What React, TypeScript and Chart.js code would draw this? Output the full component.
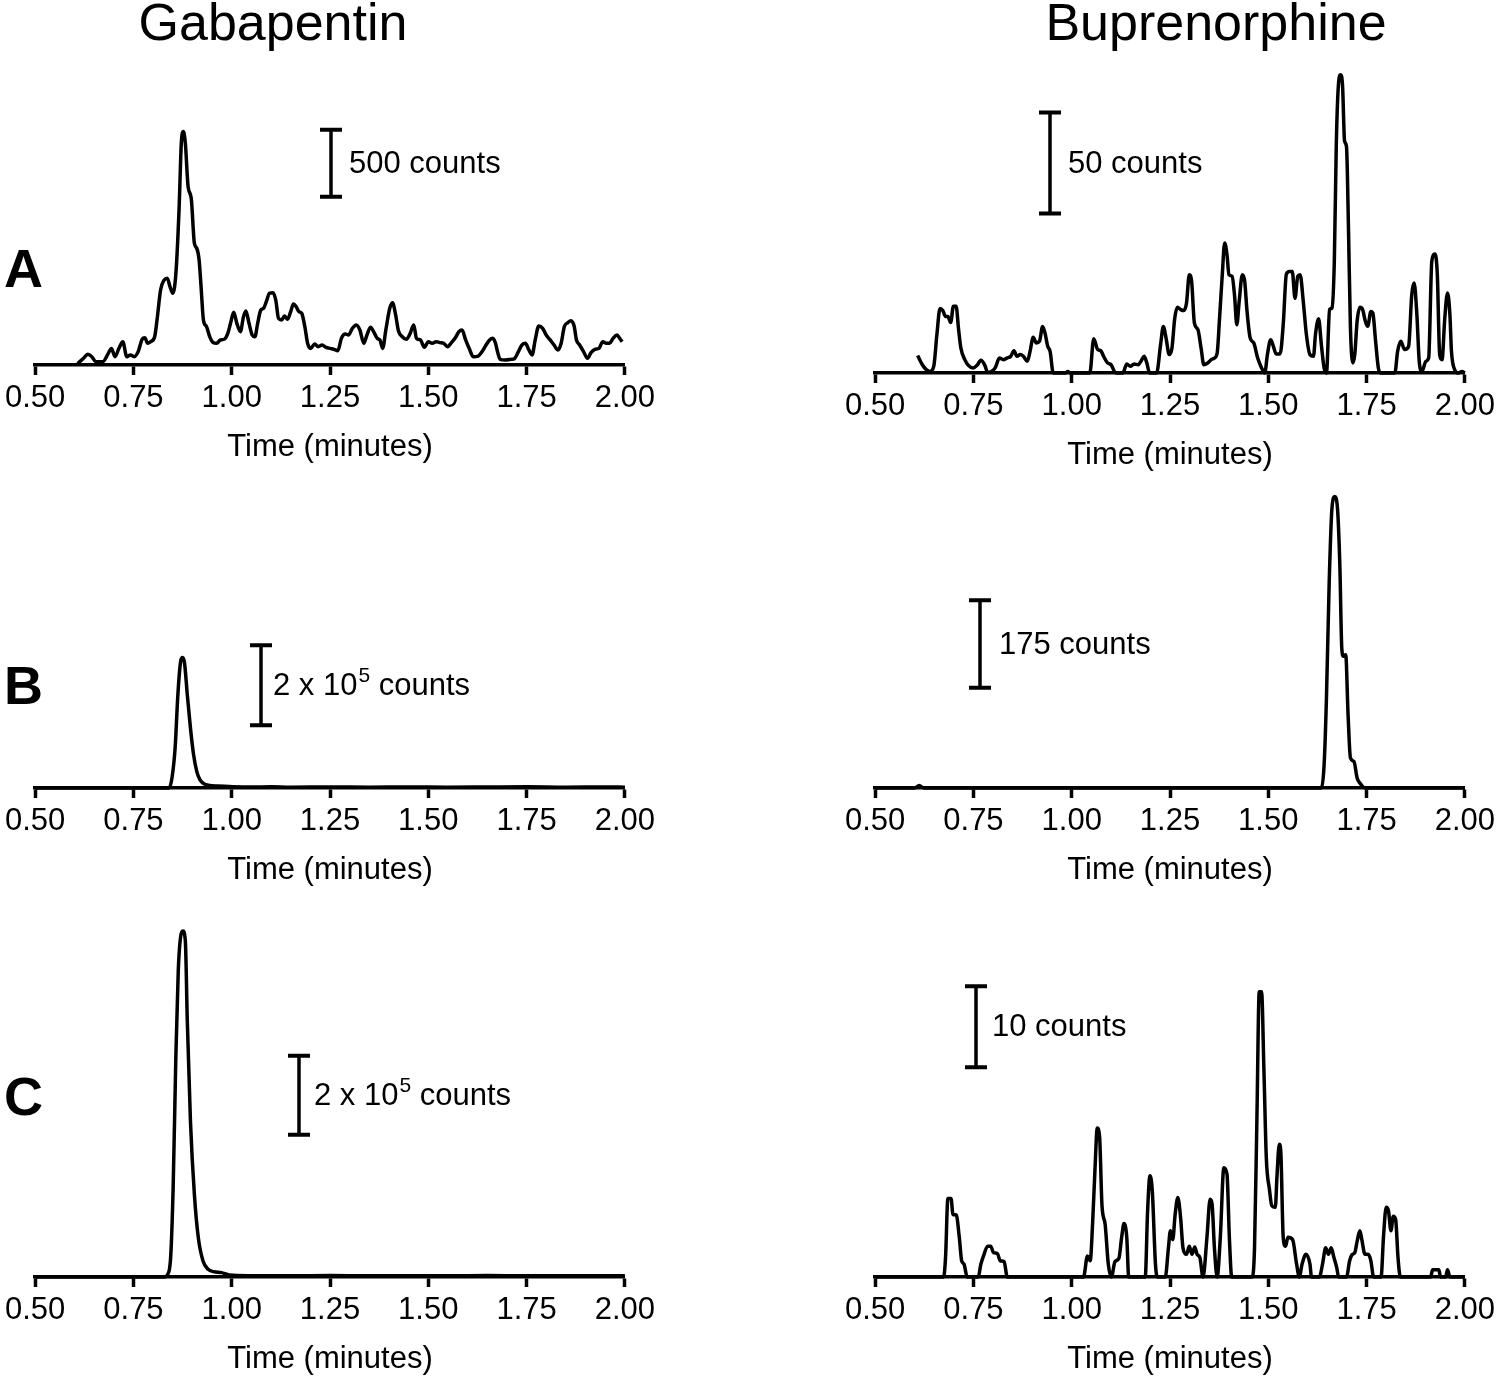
import React, { useEffect, useRef } from 'react';
import { Chart, registerables } from 'chart.js';

Chart.register(...registerables);

const FONT = '"Liberation Sans", Arial, Helvetica, sans-serif';

// ---------- axis / labels ----------
const tickValues = [0.5, 0.75, 1.0, 1.25, 1.5, 1.75, 2.0];
const tickLabels = ['0.50', '0.75', '1.00', '1.25', '1.50', '1.75', '2.00'];
const xTitle = 'Time (minutes)';
const columnTitles = ['Gabapentin', 'Buprenorphine'];
const rowLetters = ['A', 'B', 'C'];

// ---------- data: [time (min), counts] ----------
const gabapentinA: number[][] = [
  [0.608, 10], [0.623, 50], [0.634, 80], [0.644, 62], [0.654, 25], [0.672, 25], [0.686, 87], [0.694, 124],
  [0.703, 62], [0.713, 124], [0.723, 174], [0.733, 62], [0.742, 75], [0.752, 62], [0.762, 100], [0.772, 192],
  [0.779, 204], [0.786, 162], [0.794, 174], [0.804, 211], [0.811, 361], [0.819, 560], [0.828, 634], [0.836, 647],
  [0.843, 585], [0.850, 535], [0.858, 684], [0.866, 1157], [0.872, 1667], [0.877, 1742], [0.882, 1655], [0.889, 1331],
  [0.897, 1244], [0.905, 908], [0.911, 871], [0.917, 784], [0.922, 585], [0.928, 336], [0.936, 286], [0.944, 211],
  [0.952, 169], [0.962, 162], [0.971, 187], [0.981, 192], [0.990, 236], [0.997, 311], [1.005, 393], [1.013, 311],
  [1.022, 249], [1.030, 361], [1.036, 403], [1.044, 311], [1.052, 224], [1.059, 211], [1.066, 311], [1.074, 410],
  [1.081, 423], [1.088, 473], [1.096, 535], [1.105, 540], [1.112, 485], [1.119, 348], [1.127, 336], [1.134, 366],
  [1.142, 341], [1.150, 398], [1.157, 455], [1.164, 435], [1.171, 398], [1.178, 386], [1.186, 286], [1.193, 162],
  [1.201, 124], [1.211, 157], [1.220, 137], [1.230, 149], [1.240, 132], [1.250, 124], [1.260, 117], [1.270, 107],
  [1.279, 199], [1.289, 231], [1.297, 224], [1.307, 274], [1.317, 299], [1.326, 261], [1.336, 162], [1.344, 224],
  [1.353, 281], [1.361, 249], [1.370, 199], [1.377, 187], [1.384, 124], [1.392, 261], [1.402, 423], [1.409, 465],
  [1.417, 373], [1.424, 256], [1.434, 211], [1.444, 192], [1.454, 236], [1.463, 299], [1.470, 199], [1.480, 187],
  [1.490, 132], [1.500, 174], [1.510, 162], [1.520, 174], [1.529, 167], [1.539, 162], [1.549, 137], [1.559, 167],
  [1.568, 199], [1.578, 249], [1.586, 261], [1.595, 187], [1.605, 117], [1.614, 62], [1.627, 67], [1.637, 100],
  [1.647, 149], [1.656, 187], [1.664, 199], [1.671, 162], [1.676, 100], [1.683, 42], [1.696, 37], [1.710, 42],
  [1.720, 50], [1.728, 92], [1.738, 149], [1.747, 162], [1.756, 112], [1.764, 75], [1.772, 187], [1.781, 291],
  [1.791, 274], [1.800, 224], [1.810, 187], [1.820, 149], [1.830, 112], [1.838, 162], [1.846, 286], [1.855, 316],
  [1.863, 331], [1.871, 291], [1.877, 187], [1.885, 149], [1.895, 100], [1.905, 50], [1.914, 92], [1.924, 117],
  [1.934, 124], [1.944, 174], [1.953, 162], [1.961, 162], [1.970, 199], [1.980, 224], [1.987, 199], [1.993, 174],
];

const buprenorphineA: number[][] = [
  [0.608, 8.7], [0.620, 4.1], [0.630, 1.7], [0.639, 0.8], [0.649, 3.3], [0.657, 19], [0.665, 32], [0.672, 31],
  [0.679, 28], [0.685, 28], [0.692, 25], [0.699, 33], [0.706, 33], [0.712, 22], [0.718, 12.4], [0.728, 6.6],
  [0.737, 3.8], [0.749, 2.5], [0.759, 3.8], [0.769, 6.3], [0.779, 3.8], [0.786, 0.3], [0.796, 0.8], [0.806, 2.8],
  [0.816, 7.4], [0.826, 6.6], [0.835, 7.4], [0.845, 8.3], [0.853, 11], [0.861, 8.3], [0.869, 9.1], [0.877, 8.3],
  [0.887, 5.8], [0.894, 10.7], [0.902, 17.7], [0.910, 14.9], [0.918, 15.7], [0.926, 23], [0.932, 19.8], [0.939, 13.2],
  [0.945, 10.7], [0.953, 0], [0.985, 0], [0.990, 0.8], [0.996, 0], [1.046, 0], [1.056, 17], [1.066, 11.6],
  [1.074, 11], [1.081, 8.3], [1.091, 5], [1.100, 4.1], [1.112, 0], [1.130, 0], [1.140, 4.5], [1.149, 3.3],
  [1.159, 4.5], [1.169, 4.1], [1.177, 6.1], [1.184, 8.3], [1.191, 5], [1.198, 0], [1.216, 0], [1.226, 14],
  [1.233, 23], [1.240, 17.3], [1.248, 9.1], [1.255, 12.4], [1.262, 27], [1.269, 32.5], [1.277, 31.4], [1.285, 30.9],
  [1.292, 34.7], [1.299, 48.7], [1.305, 45.4], [1.312, 24.8], [1.321, 21.5], [1.329, 12.4], [1.336, 4.1], [1.346, 5],
  [1.355, 6.6], [1.363, 7.4], [1.370, 9.9], [1.376, 27], [1.383, 48.7], [1.389, 64.4], [1.395, 58.6], [1.400, 48.7],
  [1.408, 47.9], [1.414, 38.8], [1.420, 23.9], [1.426, 35.5], [1.434, 48.7], [1.440, 45.4], [1.446, 30.5], [1.454, 17.3],
  [1.463, 14.9], [1.473, 7.4], [1.483, 2.5], [1.491, 0], [1.498, 9.4], [1.506, 16.5], [1.513, 13.2], [1.520, 9.4],
  [1.530, 9.4], [1.538, 23.9], [1.546, 49], [1.554, 50.3], [1.561, 50.3], [1.568, 37], [1.575, 47.9], [1.581, 48.7],
  [1.589, 35.5], [1.597, 19], [1.606, 9.1], [1.615, 8.3], [1.620, 19], [1.628, 26.9], [1.635, 14], [1.642, 2.5],
  [1.648, 0], [1.656, 31.4], [1.662, 32.2], [1.668, 55.3], [1.673, 113], [1.679, 144], [1.684, 147.7], [1.689, 142],
  [1.694, 115], [1.699, 112], [1.704, 71.8], [1.709, 22.3], [1.715, 5], [1.720, 9.1], [1.726, 25.6], [1.733, 32.5],
  [1.740, 31.4], [1.747, 25.6], [1.753, 23.1], [1.761, 30.5], [1.766, 29.7], [1.773, 15.7], [1.780, 2.5], [1.786, 0],
  [1.822, 0], [1.829, 10.7], [1.837, 15.7], [1.847, 11.6], [1.857, 13.2], [1.865, 38.8], [1.871, 44.6], [1.878, 28.9],
  [1.884, 5.8], [1.891, 0.8], [1.901, 5.8], [1.908, 7.4], [1.916, 55.3], [1.924, 58.9], [1.930, 48.7], [1.936, 9.1],
  [1.942, 6.6], [1.949, 27.2], [1.956, 39.6], [1.962, 28.9], [1.966, 10.7], [1.974, 1.7], [1.983, 0], [1.993, 0.8],
  [2.0, 0],
];

const gabapentinB: number[][] = [
  [0.5, 0], [0.835, 0], [0.841, 500], [0.848, 25000], [0.856, 100000], [0.863, 233000], [0.870, 316000],
  [0.875, 326000], [0.880, 312000], [0.887, 233000], [0.895, 150000], [0.903, 83000], [0.911, 41600],
  [0.919, 20800], [0.929, 10800], [0.944, 6600], [0.964, 5000], [1.003, 3300], [1.05, 2500], [1.10, 3000],
  [1.15, 2000], [1.25, 2500], [1.35, 2000], [1.45, 2800], [1.55, 2000], [1.65, 2500], [1.75, 3000],
  [1.85, 2000], [1.95, 2500], [2.0, 2000],
];

const buprenorphineB: number[][] = [
  [0.5, 0], [0.600, 0], [0.612, 5], [0.624, 0], [1.630, 0], [1.635, 1], [1.642, 46], [1.648, 180],
  [1.655, 412], [1.662, 559], [1.669, 582], [1.676, 559], [1.682, 446], [1.687, 279], [1.691, 263],
  [1.697, 266], [1.703, 146], [1.709, 60], [1.718, 53], [1.726, 20], [1.733, 10], [1.743, 1], [1.75, 0], [2.0, 0],
];

const gabapentinC: number[][] = [
  [0.5, 0], [0.83, 0], [0.836, 5000], [0.844, 40500], [0.851, 226000], [0.858, 564000], [0.864, 775000],
  [0.871, 867000], [0.876, 876000], [0.882, 851000], [0.887, 648000], [0.895, 395000], [0.905, 209000],
  [0.915, 99600], [0.927, 40500], [0.940, 19400], [0.954, 13500], [0.974, 11000], [0.994, 5000], [1.05, 3400],
  [1.15, 3000], [1.25, 3800], [1.35, 3000], [1.45, 3400], [1.55, 3000], [1.65, 3800], [1.75, 3000],
  [1.85, 3400], [2.0, 3000],
];

const buprenorphineC: number[][] = [
  [0.5, 0], [0.674, 0], [0.679, 2.4], [0.685, 9.7], [0.693, 9.7], [0.698, 7.7], [0.706, 7.7], [0.714, 4.9],
  [0.720, 2.0], [0.726, 1.6], [0.734, 0], [0.762, 0], [0.769, 1.6], [0.777, 2.8], [0.786, 3.8], [0.794, 3.8],
  [0.801, 3.0], [0.811, 2.9], [0.818, 2.0], [0.828, 1.9], [0.836, 0], [1.030, 0], [1.040, 2.6], [1.047, 2.0],
  [1.053, 6.5], [1.059, 13.1], [1.065, 18.4], [1.071, 17.2], [1.077, 8.8], [1.085, 6.5], [1.093, 1.6], [1.101, 0],
  [1.110, 1.9], [1.120, 2.3], [1.127, 4.9], [1.133, 6.6], [1.140, 4.9], [1.145, 0], [1.187, 0], [1.193, 8.1],
  [1.199, 12.5], [1.205, 10.6], [1.213, 1.6], [1.218, 0], [1.238, 0], [1.246, 3.6], [1.251, 5.7], [1.257, 4.6],
  [1.263, 7.7], [1.270, 9.8], [1.277, 7.3], [1.283, 3.6], [1.292, 2.8], [1.299, 3.8], [1.306, 2.8], [1.313, 3.7],
  [1.319, 2.8], [1.326, 2.4], [1.334, 0], [1.344, 4.9], [1.352, 9.6], [1.357, 9.0], [1.363, 3.6], [1.370, 0],
  [1.378, 4.9], [1.387, 13.5], [1.395, 12.7], [1.401, 4.9], [1.407, 0], [1.459, 0], [1.465, 3.6], [1.471, 19.3],
  [1.477, 35.2], [1.483, 35.2], [1.489, 25.4], [1.495, 14.7], [1.503, 10.8], [1.509, 8.8], [1.518, 8.6], [1.522, 12.3],
  [1.528, 16.4], [1.532, 15.3], [1.538, 4.9], [1.544, 3.8], [1.550, 4.9], [1.562, 4.6], [1.572, 1.6], [1.579, 0],
  [1.586, 1.6], [1.596, 2.8], [1.606, 1.6], [1.610, 0], [1.630, 0], [1.638, 1.6], [1.646, 3.6], [1.653, 2.8],
  [1.660, 3.6], [1.667, 2.4], [1.674, 1.2], [1.679, 0], [1.699, 0], [1.707, 2.0], [1.714, 2.8], [1.720, 3.0],
  [1.726, 4.4], [1.733, 5.7], [1.738, 4.6], [1.746, 2.8], [1.754, 2.8], [1.761, 2.0], [1.768, 0], [1.787, 0],
  [1.793, 4.9], [1.800, 8.6], [1.806, 8.1], [1.812, 5.7], [1.818, 7.5], [1.824, 7.1], [1.830, 2.4], [1.836, 0],
  [1.913, 0], [1.918, 0.9], [1.934, 0.9], [1.938, 0], [1.951, 0], [1.956, 0.9], [1.962, 0], [2.0, 0],
];

// scale-bar lengths (counts) and their labels
const scaleBarCounts = [500, 50, 200000, 175, 200000, 10];
const scaleBarLabels = [
  ['500 counts', '', ''],
  ['50 counts', '', ''],
  ['2 x 10', '5', ' counts'],
  ['175 counts', '', ''],
  ['2 x 10', '5', ' counts'],
  ['10 counts', '', ''],
];

// ---------- layout ----------
const TEXT_SIZE = 31;
const AXIS_BOX = 106; // canvas space below the chart area
const panels = [
  { data: gabapentinA, left: 0, top: 120, axisY: 365, yMax: 1828, padL: 33, padR: 34,
    bar: { time: 1.252, base: 1256, length: scaleBarCounts[0], gap: 18, parts: scaleBarLabels[0] } },
  { data: buprenorphineA, left: 840, top: 60, axisY: 373, yMax: 155, padL: 34, padR: 32,
    bar: { time: 0.946, base: 79, length: scaleBarCounts[1], gap: 18, parts: scaleBarLabels[1] } },
  { data: gabapentinB, left: 0, top: 620, axisY: 788, yMax: 420000, padL: 33, padR: 34,
    bar: { time: 1.075, base: 157000, length: scaleBarCounts[2], gap: 12, parts: scaleBarLabels[2] } },
  { data: buprenorphineB, left: 840, top: 470, axisY: 788, yMax: 635, padL: 34, padR: 32,
    bar: { time: 0.767, base: 200, length: scaleBarCounts[3], gap: 19, parts: scaleBarLabels[3] } },
  { data: gabapentinC, left: 0, top: 900, axisY: 1277, yMax: 954400, padL: 33, padR: 34,
    bar: { time: 1.171, base: 360000, length: scaleBarCounts[4], gap: 15, parts: scaleBarLabels[4] } },
  { data: buprenorphineC, left: 840, top: 970, axisY: 1277, yMax: 37.9, padL: 34, padR: 32,
    bar: { time: 0.757, base: 25.9, length: scaleBarCounts[5], gap: 16, parts: scaleBarLabels[5] } },
];

const scaleBarPlugin = {
  id: 'scaleBar',
  afterDatasetsDraw(chart: any, _args: any, opts: any) {
    const sb = opts && opts.bar;
    if (!sb) return;
    const { ctx } = chart;
    const xs = chart.scales.x;
    const ys = chart.scales.y;
    const px = Math.round(xs.getPixelForValue(sb.time));
    const yb = ys.getPixelForValue(sb.base);
    const yt = ys.getPixelForValue(sb.base + sb.length);
    ctx.save();
    ctx.strokeStyle = '#000';
    ctx.lineWidth = 3.5;
    ctx.beginPath();
    ctx.moveTo(px, yt);
    ctx.lineTo(px, yb);
    ctx.stroke();
    ctx.lineWidth = 4;
    ctx.beginPath();
    ctx.moveTo(px - 11, yt);
    ctx.lineTo(px + 11, yt);
    ctx.moveTo(px - 11, yb);
    ctx.lineTo(px + 11, yb);
    ctx.stroke();
    ctx.fillStyle = '#000';
    ctx.textAlign = 'left';
    ctx.textBaseline = 'middle';
    const cy = (yt + yb) / 2 + 1;
    let cx = px + sb.gap;
    const [main, sup, rest] = sb.parts;
    ctx.font = `${TEXT_SIZE}px ${FONT}`;
    ctx.fillText(main, cx, cy);
    cx += ctx.measureText(main).width;
    if (sup) {
      ctx.font = `21px ${FONT}`;
      ctx.fillText(sup, cx + 1, cy - 10);
      cx += ctx.measureText(sup).width + 1;
    }
    if (rest) {
      ctx.font = `${TEXT_SIZE}px ${FONT}`;
      ctx.fillText(rest, cx, cy);
    }
    ctx.restore();
  },
};

function Panel({ p }: { p: any }) {
  const ref = useRef<HTMLCanvasElement>(null);
  const W = 660;
  const H = p.axisY - p.top + AXIS_BOX;
  useEffect(() => {
    if (!ref.current) return;
    const chart = new Chart(ref.current, {
      type: 'line',
      data: {
        datasets: [
          {
            data: p.data.map((d: number[]) => ({ x: d[0], y: d[1] })),
            borderColor: '#000',
            borderWidth: 3.5,
            pointRadius: 0,
            fill: false,
            cubicInterpolationMode: 'monotone',
            clip: false,
          } as any,
        ],
      },
      options: {
        responsive: false,
        animation: false,
        devicePixelRatio: 1,
        events: [],
        layout: { padding: { left: p.padL, right: p.padR, top: 0, bottom: 4.6 } },
        plugins: {
          legend: { display: false },
          tooltip: { enabled: false },
          scaleBar: { bar: p.bar },
        } as any,
        scales: {
          x: {
            type: 'linear',
            min: 0.5,
            max: 2.0,
            afterBuildTicks: (scale: any) => {
              scale.ticks = tickValues.map((v) => ({ value: v }));
            },
            ticks: {
              autoSkip: false,
              maxRotation: 0,
              minRotation: 0,
              padding: 5,
              color: '#000',
              font: { family: FONT, size: TEXT_SIZE, lineHeight: 1.2 },
              callback: (v: any) => tickLabels[tickValues.indexOf(Number(v))] ?? '',
            },
            grid: {
              display: true,
              drawOnChartArea: false,
              drawTicks: true,
              tickLength: 10,
              tickWidth: 3.5,
              tickColor: '#000',
            },
            border: { display: true, color: '#000', width: 3.5 },
            title: {
              display: true,
              text: xTitle,
              color: '#000',
              font: { family: FONT, size: TEXT_SIZE, lineHeight: 1.2 },
              padding: { top: 7, bottom: 0 },
            },
          },
          y: { display: false, min: 0, max: p.yMax },
        },
      } as any,
      plugins: [scaleBarPlugin as any],
    });
    return () => chart.destroy();
  }, []);
  return (
    <canvas
      ref={ref}
      width={W}
      height={H}
      style={{ position: 'absolute', left: p.left, top: p.top, width: W, height: H }}
    />
  );
}

export default function App() {
  const titleStyle: React.CSSProperties = {
    position: 'absolute',
    top: -4,
    width: 500,
    textAlign: 'center',
    fontFamily: FONT,
    fontSize: 52,
    lineHeight: 1,
    color: '#000',
    whiteSpace: 'nowrap',
  };
  const letterStyle: React.CSSProperties = {
    position: 'absolute',
    left: 4,
    fontFamily: FONT,
    fontSize: 54,
    fontWeight: 'bold',
    lineHeight: 1,
    color: '#000',
  };
  const letterTops = [241, 658, 1069];
  return (
    <div style={{ position: 'absolute', left: 0, top: 0, width: 1500, height: 1381, background: '#fff', overflow: 'hidden' }}>
      <div style={{ ...titleStyle, left: 273 - 250 }}>{columnTitles[0]}</div>
      <div style={{ ...titleStyle, left: 1216 - 250 }}>{columnTitles[1]}</div>
      {rowLetters.map((l, i) => (
        <div key={l} style={{ ...letterStyle, top: letterTops[i] }}>{l}</div>
      ))}
      {panels.map((p, i) => (
        <Panel key={i} p={p} />
      ))}
    </div>
  );
}
